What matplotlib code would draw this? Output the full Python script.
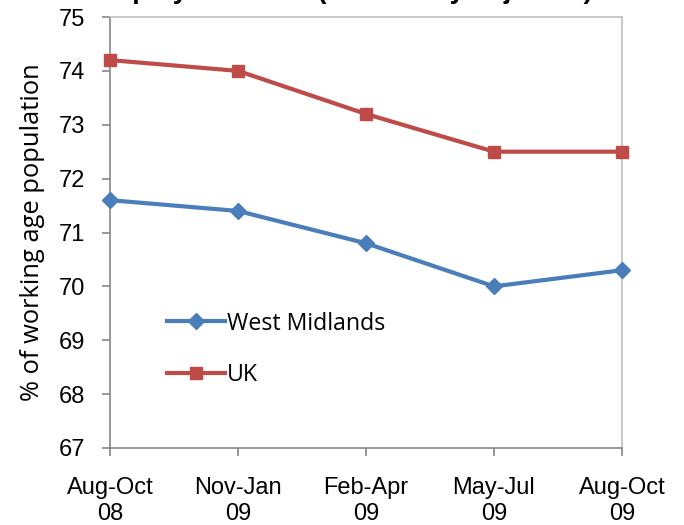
import matplotlib
matplotlib.use("Agg")
import matplotlib.pyplot as plt

periods = ["Aug-Oct\n08", "Nov-Jan\n09", "Feb-Apr\n09", "May-Jul\n09", "Aug-Oct\n09"]
west_midlands = [71.6, 71.4, 70.8, 70.0, 70.3]
uk = [74.2, 74.0, 73.2, 72.5, 72.5]
y_ticks = [67, 68, 69, 70, 71, 72, 73, 74, 75]
title = "Employment rate (seasonally adjusted)"
y_label = "% of working age population"

fig = plt.figure(figsize=(6.84, 5.25), dpi=100)
ax = fig.add_axes([110/684, 1-448/525, (622-110)/684, (448-17)/525])

x = list(range(len(periods)))
ax.plot(x, west_midlands, color="#4a7ebb", lw=3, marker="D", ms=8.5,
        label="West Midlands", clip_on=False, zorder=3)
ax.plot(x, uk, color="#be4b48", lw=3, marker="s", ms=8.5,
        label="UK", clip_on=False, zorder=3)

ax.set_xlim(0, 4)
ax.set_ylim(67, 75)
ax.set_yticks(y_ticks)
ax.set_xticks(x)
ax.set_xticklabels(periods, fontsize=17, family="Liberation Sans", linespacing=1.2)
ax.set_yticklabels([str(v) for v in y_ticks], fontsize=17, family="Liberation Sans")

for s in ["left", "bottom"]:
    ax.spines[s].set_color("#868686")
    ax.spines[s].set_linewidth(1.2)
for s in ["top", "right"]:
    ax.spines[s].set_color("#bfbfbf")
    ax.spines[s].set_linewidth(1.2)
ax.tick_params(axis="both", direction="out", color="#868686", length=6, width=1.2)
ax.tick_params(axis="y", pad=12)
ax.tick_params(axis="x", pad=15)

ax.set_ylabel(y_label, fontsize=18.4, family="Open Sans", labelpad=10)

leg = ax.legend(loc="upper left", bbox_to_anchor=(0.07, 0.365), frameon=False,
                prop={"family": "Open Sans", "size": 16.7},
                handlelength=2.5, handletextpad=0.1, labelspacing=1.2)

fig.text(341.5/684, 1 + 2.5/525, title, ha="center", va="baseline",
         fontsize=19.5, fontweight="bold", family="Liberation Sans")

fig.savefig("out.png", dpi=100)
